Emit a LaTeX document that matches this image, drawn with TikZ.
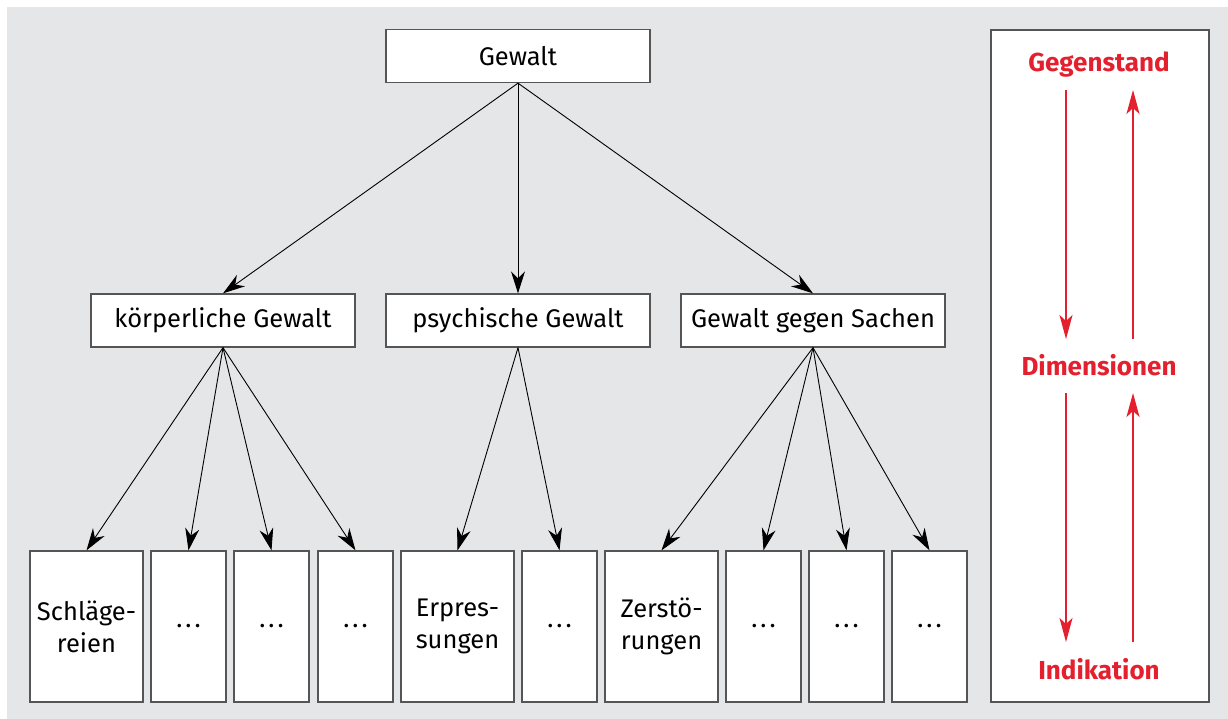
\documentclass[tikz,border=0pt]{standalone}
\usepackage{fontspec}
\setmainfont{Fira Sans}
\usetikzlibrary{arrows.meta}
\definecolor{panelgrey}{HTML}{E5E6E7}
\definecolor{signalred}{HTML}{E5202E}
\definecolor{boxline}{HTML}{555555}
\newcommand{\gap}{.\hspace{3pt}.\hspace{3pt}.}

\begin{document}
\begin{tikzpicture}[x=1pt,y=-1pt,font=\fontsize{25.5}{32}\selectfont]
                \tikzstyle{box}=[draw=boxline,line width=1.3pt,fill=white,inner sep=0pt,minimum height=53pt,minimum width=264pt]
                \tikzstyle{leaf}=[draw=boxline,line width=1.3pt,fill=white,inner sep=0pt,minimum height=151pt,align=center]
                \tikzstyle{edge}=[line width=0.9pt,-{Stealth[length=22pt,width=14pt,inset=7pt]}]
                \tikzstyle{level}=[text=signalred,font=\fontsize{26}{30}\selectfont\bfseries]
                \tikzstyle{flow}=[draw=signalred,line width=2pt,-{Stealth[length=24pt,width=13pt,inset=6pt]}]
                \useasboundingbox (0,0) rectangle (1228,719);
                \fill[panelgrey] (7,7) rectangle (1228,719);

                % tree
                \node[box] (G) at (518,56) {Gewalt};
                \node[box] (K) at (223,320.5) {körperliche Gewalt};
                \node[box] (P) at (518,320.5) {psychische Gewalt};
                \node[box] (S) at (813,320.5) {Gewalt gegen Sachen};

                \foreach \num/\x/\w/\txt in {1/86.5/113/{Schläge-\\reien}, 2/188.5/75/{\gap}, 3/271.5/75/{\gap}, 4/355.5/75/{\gap},
                                              5/457.5/113/{Erpres-\\sungen}, 6/559.5/75/{\gap},
                                              7/661.5/113/{Zerstö-\\rungen}, 8/763.5/75/{\gap}, 9/846.5/75/{\gap}, 10/929.5/75/{\gap}}
                    \node[leaf,minimum width=\w pt] (B-\num) at (\x,626.5) {\txt};

                \foreach \to in {K, P, S}
                    \draw[edge] (G.south) -- (\to.north);
                \foreach \to in {1, 2, 3, 4}
                    \draw[edge] (K.south) -- (B-\to.north);
                \foreach \to in {5, 6}
                    \draw[edge] (P.south) -- (B-\to.north);
                \foreach \to in {7, 8, 9, 10}
                    \draw[edge] (S.south) -- (B-\to.north);

                % right panel
                \node[draw=boxline,line width=1.3pt,fill=white,minimum width=218pt,minimum height=672pt,inner sep=0pt] (R) at (1100,366) {};
                \node[level] (T) at (1099,65) {Gegenstand};
                \node[level] (D) at (1099,365) {Dimensionen};
                \node[level] (I) at (1099,669) {Indikation};
                \coordinate (T-l) at (1066,90);  \coordinate (T-r) at (1133,90);
                \coordinate (D-lu) at (1066,339); \coordinate (D-ru) at (1133,339);
                \coordinate (D-ld) at (1066,393); \coordinate (D-rd) at (1133,393);
                \coordinate (I-l) at (1066,642); \coordinate (I-r) at (1133,642);
                \draw[flow] (T-l) -- (D-lu);
                \draw[flow] (D-ru) -- (T-r);
                \draw[flow] (D-ld) -- (I-l);
                \draw[flow] (I-r) -- (D-rd);
            \end{tikzpicture}
\end{document}
